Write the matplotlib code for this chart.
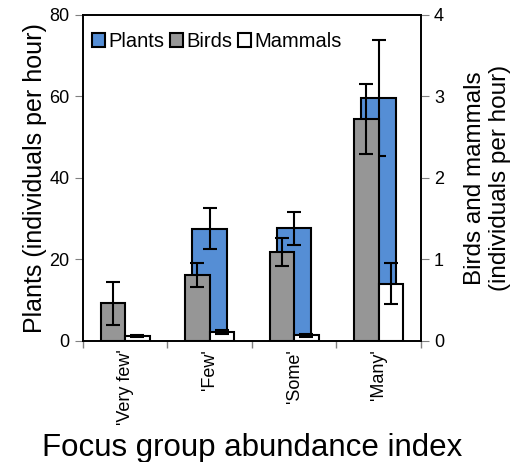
import numpy as np
import matplotlib.pyplot as plt

plt.rcParams['font.family'] = ['Liberation Sans', 'DejaVu Sans']

categories = ["'Very few'", "'Few'", "'Some'", "'Many'"]
plants = [0, 27.5, 27.6, 59.6]
plants_err = [0, 5.0, 4.1, 14.2]
birds = [0.46, 0.81, 1.09, 2.72]
birds_err = [0.26, 0.15, 0.17, 0.43]
mammals = [0.06, 0.11, 0.07, 0.70]
mammals_err = [0.01, 0.03, 0.02, 0.25]

x = np.arange(len(categories))

fig = plt.figure(figsize=(5.15, 4.62), dpi=100)
ax1 = fig.add_axes([0.161, 0.262, 0.656, 0.706])
ax2 = ax1.twinx()

ekw = dict(elinewidth=1.5, capthick=1.5)
has_p = np.array(plants) > 0
ax1.bar(x[has_p], np.array(plants)[has_p], width=0.41, color='#558ED5',
        edgecolor='black', linewidth=1.5, label='Plants',
        yerr=np.array(plants_err)[has_p], capsize=5, error_kw=ekw)
ax2.bar(x - 0.145, birds, width=0.29, color='#969696', edgecolor='black',
        linewidth=1.5, label='Birds', yerr=birds_err, capsize=5, error_kw=ekw)
ax2.bar(x + 0.145, mammals, width=0.29, color='white', edgecolor='black',
        linewidth=1.5, label='Mammals', yerr=mammals_err, capsize=5, error_kw=ekw)

ax1.set_xlim(-0.5, 3.5)
ax1.set_ylim(0, 80)
ax2.set_ylim(0, 4)
ax1.set_yticks([0, 20, 40, 60, 80])
ax2.set_yticks([0, 1, 2, 3, 4])
ax1.set_xticks(x)
ax1.set_xticklabels(categories, rotation=90, fontsize=13)
ax1.set_xticks(np.arange(-0.5, 4, 1), minor=True)
ax1.tick_params(axis='x', which='major', length=0, pad=6)
ax1.tick_params(axis='x', which='minor', length=5, width=1, direction='out', color='#808080')
ax1.tick_params(axis='y', labelsize=13, length=6, direction='out', color='#808080')
ax2.tick_params(axis='y', labelsize=13, length=6, direction='out', color='#808080')
for ax in (ax1, ax2):
    for s in ax.spines.values():
        s.set_linewidth(1.2)

ax1.set_ylabel('Plants (individuals per hour)', fontsize=18, labelpad=2)
ax2.set_ylabel('Birds and mammals\n(individuals per hour)', fontsize=17.5, labelpad=14)
ax1.set_xlabel('Focus group abundance index', fontsize=22.5, labelpad=6)

h1, l1 = ax1.get_legend_handles_labels()
h2, l2 = ax2.get_legend_handles_labels()
ax2.legend(h1 + h2, l1 + l2, loc='upper left', ncol=3, frameon=False,
           fontsize=14.5, handlelength=0.65, handleheight=0.65, handletextpad=0.15,
           columnspacing=0.3, borderaxespad=0.3, bbox_to_anchor=(-0.015, 0.99))

fig.savefig('out.png', dpi=100)
